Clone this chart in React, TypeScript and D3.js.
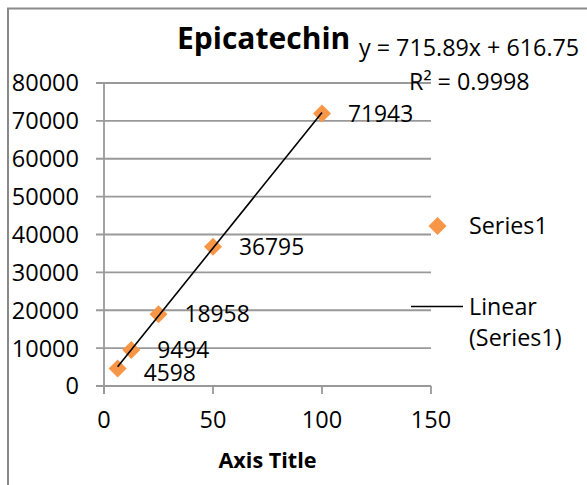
import React from "react";
import * as d3 from "d3";

const xValues = [6.25, 12.5, 25, 50, 100];
const yValues = [4598, 9494, 18958, 36795, 71943];
const xTicks = [0, 50, 100, 150];
const yTicks = [0, 10000, 20000, 30000, 40000, 50000, 60000, 70000, 80000];
const slope = 715.89;
const intercept = 616.75;
const title = "Epicatechin";
const equationText = "y = 715.89x + 616.75";
const r2Text = "R² = 0.9998";
const axisTitle = "Axis Title";

const FONT = "'Open Sans', 'Liberation Sans', sans-serif";
const ORANGE = "#F79646";
const GRID = "#999999";

export default function App() {
  const x = d3.scaleLinear().domain([0, 150]).range([104, 431]);
  const y = d3.scaleLinear().domain([0, 80000]).range([386, 83]);
  const diamondSq = (s: number) => `M0,${-s}L${s},0L0,${s}L${-s},0Z`;
  const tx0 = xValues[0];
  const tx1 = xValues[xValues.length - 1];
  const trend = d3.line<number>()
    .x((d) => x(d))
    .y((d) => y(slope * d + intercept))([tx0, tx1]);

  return (
    <svg
      width={587}
      height={485}
      style={{ position: "absolute", left: 0, top: 0, background: "#fff" }}
      fontFamily={FONT}
    >
      {/* chart border */}
      <path d="M8,490 L8,8.5 L600,8.5" fill="none" stroke="#8a8a8a" strokeWidth={2} />

      {/* gridlines */}
      {yTicks.map((t) => (
        <line key={t} x1={96} x2={431} y1={y(t)} y2={y(t)} stroke={GRID} strokeWidth={1.8} />
      ))}
      {/* y axis */}
      <line x1={104} x2={104} y1={y(80000)} y2={394} stroke={GRID} strokeWidth={1.8} />
      {/* x ticks */}
      {xTicks.map((t) => (
        <line key={t} x1={x(t)} x2={x(t)} y1={386} y2={394} stroke={GRID} strokeWidth={1.8} />
      ))}

      {/* y tick labels */}
      {yTicks.map((t) => (
        <text key={t} x={79} y={y(t)} dy="0.36em" textAnchor="end" fontSize={23.5} fill="#000">
          {t}
        </text>
      ))}
      {/* x tick labels */}
      {xTicks.map((t) => (
        <text key={t} x={x(t)} y={428} textAnchor="middle" fontSize={23.5} fill="#000">
          {t}
        </text>
      ))}

      {/* markers */}
      {xValues.map((v, i) => (
        <path key={i} d={diamondSq(9)} transform={`translate(${x(v)},${y(yValues[i])})`} fill={ORANGE} />
      ))}

      {/* trendline */}
      <path d={trend || ""} fill="none" stroke="#000" strokeWidth={1.6} />

      {/* data labels */}
      {xValues.map((v, i) => (
        <text
          key={i}
          x={x(v) + 26}
          y={y(yValues[i]) + (i === 0 ? 4 : 0)}
          dy="0.36em"
          fontSize={22.8}
          fill="#000"
        >
          {yValues[i]}
        </text>
      ))}

      {/* title */}
      <text x={177} y={49} fontSize={30} fontWeight="bold" fill="#000">
        {title}
      </text>

      {/* equation */}
      <text x={359} y={56} fontSize={23.3} fill="#000">
        {equationText}
      </text>
      <text x={409} y={90} fontSize={23.3} fill="#000">
        {r2Text}
      </text>

      {/* axis title */}
      <text x={267.5} y={468} textAnchor="middle" fontSize={21.6} fontWeight="bold" fill="#000">
        {axisTitle}
      </text>

      {/* legend */}
      <path d={diamondSq(9)} transform="translate(437.5,226)" fill={ORANGE} />
      <text x={469} y={226} dy="0.36em" fontSize={23.3} fill="#000">Series1</text>
      <line x1={411} x2={463} y1={306.5} y2={306.5} stroke="#000" strokeWidth={1.6} />
      <text x={469} y={315} fontSize={23.3} fill="#000">Linear</text>
      <text x={469} y={346} fontSize={23.3} fill="#000">(Series1)</text>
    </svg>
  );
}
